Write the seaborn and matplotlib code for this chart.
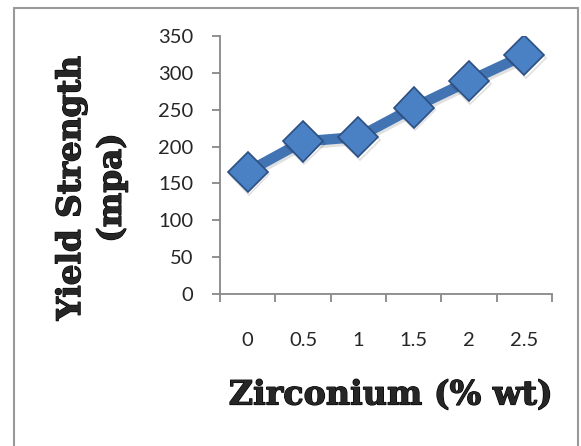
import matplotlib
matplotlib.use('Agg')
import matplotlib.pyplot as plt
import matplotlib.patheffects as pe
from matplotlib.ticker import FixedLocator
from matplotlib.patches import Rectangle
import seaborn as sns

# Data
zirconium = ['0', '0.5', '1', '1.5', '2', '2.5']
yield_strength = [166, 207, 213, 253, 289, 324]

sns.set_style('white')
plt.rcParams['font.family'] = ['Lato', 'DejaVu Sans']

fig = plt.figure(figsize=(5.81, 4.46), dpi=100)
ax = fig.add_axes([220 / 581, 1 - 294 / 446, 332 / 581, 258 / 446])

sns.pointplot(x=zirconium, y=yield_strength, ax=ax, color='#4274B4',
              markers='D', linestyles='-', linewidth=7.5, markersize=20.5,
              markeredgecolor='#2B4F80', markeredgewidth=1.2,
              markerfacecolor='#4A80C4',
              path_effects=[pe.SimpleLineShadow(offset=(1, -2), alpha=0.12),
                            pe.Normal()])

ax.set_ylim(0, 350)
ax.set_xlim(-0.5, len(zirconium) - 0.5)
ax.set_yticks(range(0, 351, 50))
ax.set_xlabel('')
ax.set_ylabel('')

# category boundary ticks like Excel
ax.xaxis.set_minor_locator(FixedLocator([i - 0.5 for i in range(len(zirconium) + 1)]))
ax.tick_params(axis='x', which='major', length=0, pad=27, labelsize=14.5)
ax.tick_params(axis='x', which='minor', length=6, width=1.3, color='#888888', direction='out')
ax.tick_params(axis='y', length=6, width=1.3, color='#888888', direction='out',
               pad=13, labelsize=14.5)
ax.xaxis.set_ticks_position('bottom')
ax.yaxis.set_ticks_position('left')

for side in ['top', 'right']:
    ax.spines[side].set_visible(False)
for side in ['left', 'bottom']:
    ax.spines[side].set_color('#888888')
    ax.spines[side].set_linewidth(1.3)

heavy = [pe.withStroke(linewidth=0.9, foreground='black')]
fig.text(391 / 581, 1 - 395 / 446, 'Zirconium (% wt)', ha='center', va='center',
         family='DejaVu Serif', fontweight='bold', fontsize=24, path_effects=heavy)
fig.text(91 / 581, 1 - 188 / 446, 'Yield Strength\n(mpa)', ha='center', va='center',
         rotation=90, family='DejaVu Serif', fontweight='bold', fontsize=23.5,
         linespacing=1.3, multialignment='center', path_effects=heavy)

# outer chart frame
fig.patches.append(Rectangle((14 / 581, -0.1), (578 - 14) / 581, 1.1 - 8 / 446,
                             transform=fig.transFigure, fill=False,
                             edgecolor='#999999', linewidth=1.5))

fig.savefig('out.png', dpi=100)
